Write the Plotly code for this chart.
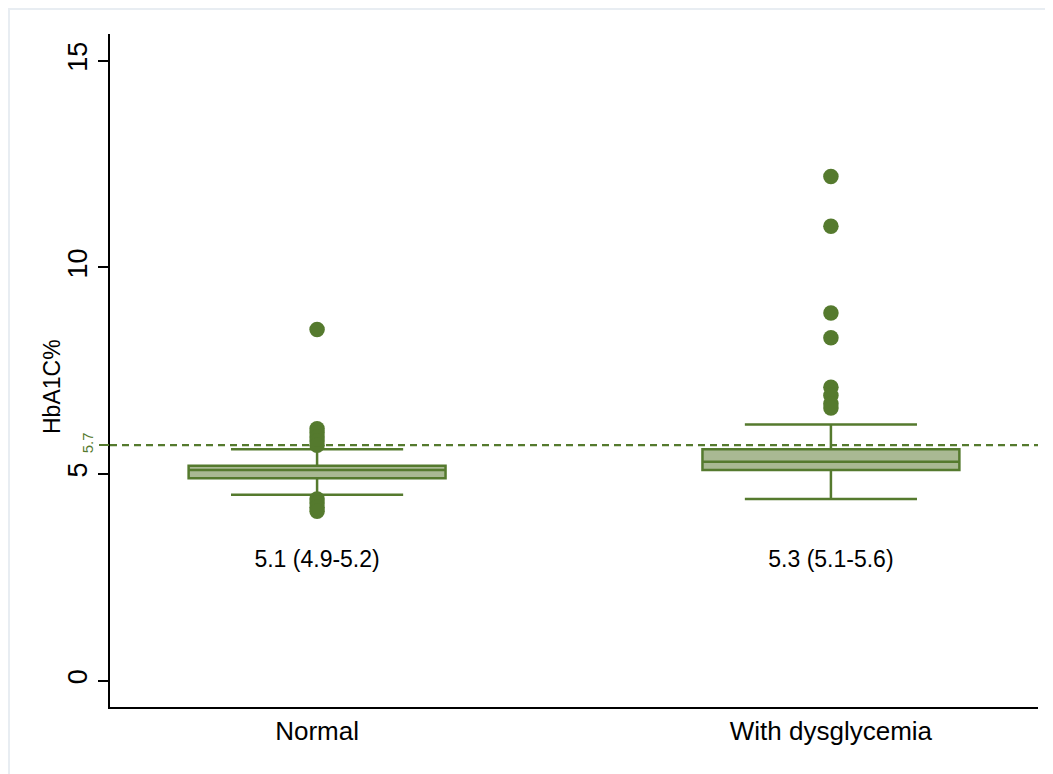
import plotly.graph_objects as go

categories = ["Normal", "With dysglycemia"]
q1 = [4.9, 5.1]
median = [5.1, 5.3]
q3 = [5.2, 5.6]
lower_whisker = [4.5, 4.4]
upper_whisker = [5.6, 6.2]
outliers_normal = [8.5, 6.1, 6.0, 5.9, 5.8, 5.7, 4.4, 4.3, 4.2, 4.1]
outliers_dysglycemia = [12.2, 11.0, 8.9, 8.3, 7.1, 6.9, 6.7, 6.6]
summary_labels = ["5.1 (4.9-5.2)", "5.3 (5.1-5.6)"]
summary_label_y = [2.9, 2.9]
threshold = 5.7
y_ticks = [0, 5, 10, 15]
y_title = "HbA1C%"

GREEN = "#557a2e"
FILL = "#a9b993"
FONT = "Liberation Sans, Arial, Helvetica, sans-serif"

fig = go.Figure()
for i, cat in enumerate(categories):
    fig.add_trace(go.Box(
        x=[i], q1=[q1[i]], median=[median[i]], q3=[q3[i]],
        lowerfence=[lower_whisker[i]], upperfence=[upper_whisker[i]],
        width=0.5, whiskerwidth=0.67,
        fillcolor=FILL, line=dict(color=GREEN, width=2.5),
        boxpoints=False, showlegend=False, hoverinfo="skip",
    ))

all_out = [outliers_normal, outliers_dysglycemia]
for i, vals in enumerate(all_out):
    fig.add_trace(go.Scatter(
        x=[i] * len(vals), y=vals, mode="markers",
        marker=dict(color=GREEN, size=15.5, line=dict(width=0)),
        showlegend=False, hoverinfo="skip",
    ))

fig.add_trace(go.Scatter(
    x=list(range(len(categories))), y=summary_label_y, mode="text",
    text=summary_labels, textfont=dict(family=FONT, size=23, color="black"),
    showlegend=False, hoverinfo="skip",
))

# invisible trace on y2 to activate the axis
fig.add_trace(go.Scatter(x=[0], y=[threshold], yaxis="y2", mode="markers",
                         marker=dict(opacity=0), showlegend=False, hoverinfo="skip"))

fig.add_shape(type="line", xref="paper", yref="y", x0=0, x1=1, y0=threshold, y1=threshold,
              line=dict(color=GREEN, width=2.2, dash="7px,5px"))

# outer light frame
fig.add_shape(type="rect", xref="paper", yref="paper",
              x0=(1 - 102) / 928, x1=1.05, y0=-0.15, y1=1 + (26 - 1) / 673,
              line=dict(color="#e8edf2", width=2), fillcolor="rgba(0,0,0,0)", layer="below")

# y axis title
fig.add_annotation(text=y_title, xref="paper", yref="paper",
                   x=(44 - 102) / 928, y=1 - (379 - 26) / 673,
                   xanchor="center", yanchor="middle", textangle=-90, showarrow=False,
                   font=dict(family=FONT, size=23, color="black"))

yrange = [-0.636, 15.65]
fig.update_layout(
    width=1045, height=766,
    margin=dict(l=102, r=15, t=26, b=67),
    paper_bgcolor="white", plot_bgcolor="white",
    font=dict(family=FONT, color="black"),
    xaxis=dict(
        range=[-0.403, 1.403], tickvals=list(range(len(categories))), ticktext=categories,
        showline=True, linecolor="black", linewidth=1.5, ticks="", showgrid=False,
        zeroline=False, tickfont=dict(size=26, color="black"),
    ),
    yaxis=dict(
        range=yrange, tickvals=y_ticks, showline=True, linecolor="black", linewidth=1.5,
        ticks="outside", ticklen=10, tickwidth=1.5, tickcolor="black",
        showgrid=False, zeroline=False, tickangle=-90,
        tickfont=dict(size=27, color="black"),
    ),
    yaxis2=dict(
        range=yrange, overlaying="y", side="left", anchor="x", tickvals=[threshold],
        ticktext=[str(threshold)], ticks="outside", ticklen=10, tickwidth=1.5,
        tickcolor=GREEN, showgrid=False, zeroline=False, showline=False, tickangle=-90,
        tickfont=dict(size=15, color=GREEN),
    ),
)

fig.write_html("out.html")
